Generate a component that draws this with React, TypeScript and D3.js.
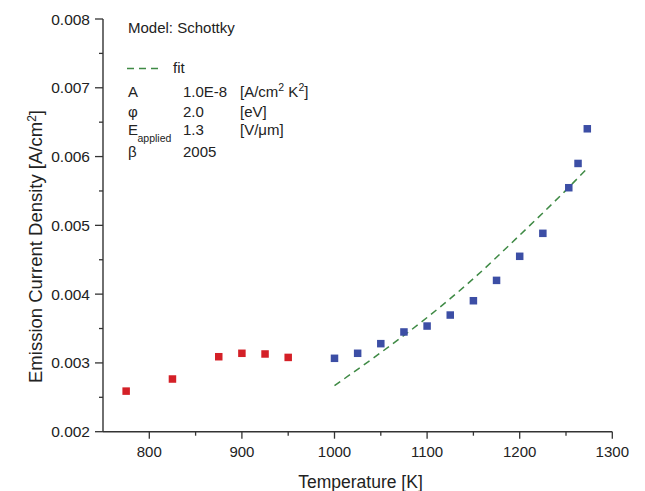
import React from "react";
import * as d3 from "d3";

// Measured data (red: low temperature, blue: high temperature)
const redT = [775, 825, 875, 900, 925, 950];
const redJ = [0.00259, 0.002766, 0.00309, 0.00314, 0.00313, 0.00308];
const blueT = [1000, 1025, 1050, 1075, 1100, 1125, 1150, 1175, 1200, 1225, 1253, 1263, 1273];
const blueJ = [0.003067, 0.00314, 0.00328, 0.00345, 0.003536, 0.003696, 0.003904, 0.0042, 0.00455, 0.004884, 0.005547, 0.0059, 0.006404];
// Schottky fit curve
const fitT = [1000, 1050, 1100, 1150, 1200, 1250, 1272];
const fitJ = [0.00267, 0.00315, 0.00366, 0.004225, 0.004857, 0.005512, 0.005815];

const xTicks = [800, 900, 1000, 1100, 1200, 1300];
const xMinor = [850, 950, 1050, 1150, 1250];
const yTicks = [0.002, 0.003, 0.004, 0.005, 0.006, 0.007, 0.008];
const yMinor = [0.0025, 0.0035, 0.0045, 0.0055, 0.0065, 0.0075];

const W = 645;
const H = 491;
const FONT = "'Liberation Sans', Arial, Helvetica, sans-serif";
const TXT = "#222";
const AX = "#333";

export default function App() {
  const x = d3.scaleLinear().domain([750, 1300]).range([103, 612.3]);
  const y = d3.scaleLinear().domain([0.002, 0.008]).range([431.7, 19]);
  const line = d3
    .line<number>()
    .x((_, i) => x(fitT[i]))
    .y((d) => y(d))
    .curve(d3.curveMonotoneX);
  const sq = 7.5;

  return (
    <svg
      width={W}
      height={H}
      style={{ position: "fixed", left: 0, top: 0, background: "#fff" }}
      fontFamily={FONT}
    >
      <rect x={0} y={0} width={W} height={H} fill="#fff" />
      {/* axes */}
      <line x1={x(750)} x2={x(1300)} y1={y(0.002)} y2={y(0.002)} stroke={AX} strokeWidth={1.4} />
      <line x1={x(750)} x2={x(750)} y1={y(0.002)} y2={y(0.008)} stroke={AX} strokeWidth={1.4} />
      {xTicks.map((t) => (
        <g key={"xt" + t}>
          <line x1={x(t)} x2={x(t)} y1={y(0.002)} y2={y(0.002) + 7} stroke={AX} strokeWidth={1.3} />
          <text x={x(t)} y={457} textAnchor="middle" fontSize={15} fill={TXT}>
            {t}
          </text>
        </g>
      ))}
      {xMinor.map((t) => (
        <line key={"xm" + t} x1={x(t)} x2={x(t)} y1={y(0.002)} y2={y(0.002) + 4} stroke={AX} strokeWidth={1.3} />
      ))}
      {yTicks.map((v) => (
        <g key={"yt" + v}>
          <line x1={x(750) - 8} x2={x(750)} y1={y(v)} y2={y(v)} stroke={AX} strokeWidth={1.3} />
          <text x={90} y={y(v) + 5.5} textAnchor="end" fontSize={15.5} fill={TXT}>
            {d3.format(".3f")(v)}
          </text>
        </g>
      ))}
      {yMinor.map((v) => (
        <line key={"ym" + v} x1={x(750) - 4} x2={x(750)} y1={y(v)} y2={y(v)} stroke={AX} strokeWidth={1.3} />
      ))}
      {/* axis titles */}
      <text x={360.5} y={488} textAnchor="middle" fontSize={17.5} fill={TXT}>
        Temperature [K]
      </text>
      <text
        transform={`translate(41.5,246.5) rotate(-90)`}
        textAnchor="middle"
        fontSize={18.5}
        fill={TXT}
      >
        Emission Current Density [A/cm
        <tspan dy={-6} fontSize={12}>2</tspan>
        <tspan dy={6}>]</tspan>
      </text>
      {/* fit curve */}
      <path d={line(fitJ) || ""} fill="none" stroke="#3f8a45" strokeWidth={1.5} strokeDasharray="7 5" />
      {/* data */}
      {redT.map((t, i) => (
        <rect key={"r" + t} x={x(t) - sq / 2} y={y(redJ[i]) - sq / 2} width={sq} height={sq} fill="#d42027" />
      ))}
      {blueT.map((t, i) => (
        <rect key={"b" + t} x={x(t) - sq / 2} y={y(blueJ[i]) - sq / 2} width={sq} height={sq} fill="#3c4ea5" />
      ))}
      {/* annotation / legend */}
      <g fontSize={15} fill={TXT}>
        <text x={128} y={33}>Model: Schottky</text>
        <line x1={127} x2={163} y1={68.5} y2={68.5} stroke="#3f8a45" strokeWidth={1.5} strokeDasharray="7 5" />
        <text x={173} y={73}>fit</text>
        <text x={128} y={96.7}>A</text>
        <text x={183} y={96.7}>1.0E-8</text>
        <text x={240} y={96.7}>
          [A/cm<tspan dy={-6} fontSize={10.5}>2</tspan>
          <tspan dy={6}> K</tspan>
          <tspan dy={-6} fontSize={10.5}>2</tspan>
          <tspan dy={6}>]</tspan>
        </text>
        <text x={128} y={117}>φ</text>
        <text x={183} y={117}>2.0</text>
        <text x={240} y={117}>[eV]</text>
        <text x={128} y={135}>E</text>
        <text x={137.5} y={141.7} fontSize={10.5}>applied</text>
        <text x={183} y={135}>1.3</text>
        <text x={240} y={135}>[V/μm]</text>
        <text x={128} y={157}>β</text>
        <text x={183} y={157}>2005</text>
      </g>
    </svg>
  );
}
